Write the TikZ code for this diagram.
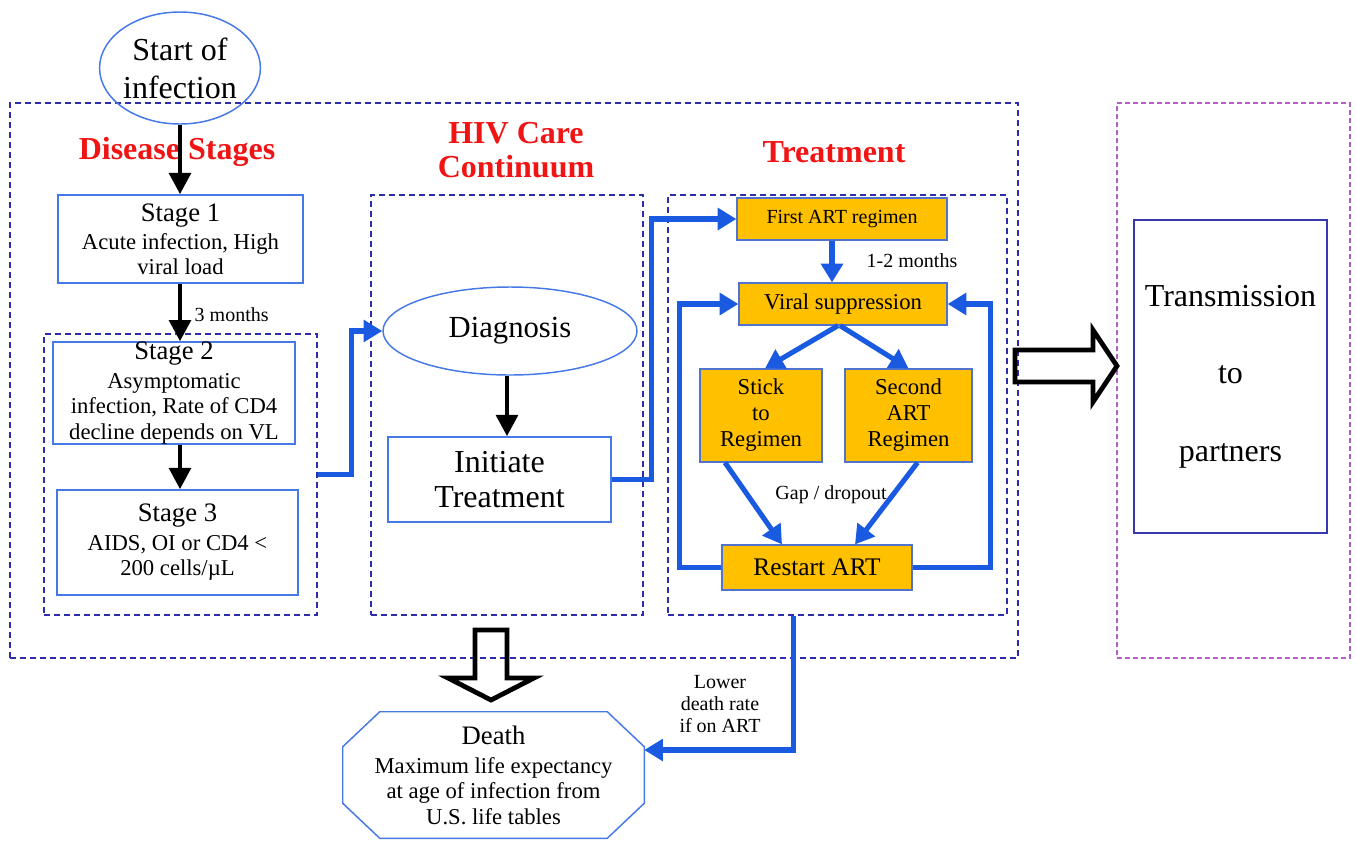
\documentclass[tikz,border=0pt]{standalone}
\usepackage{fontspec}
\setmainfont{Liberation Serif}
\usetikzlibrary{arrows.meta,calc,shapes.geometric}
\definecolor{boxblue}{RGB}{70,120,230}
\definecolor{navy}{RGB}{45,45,170}
\definecolor{navytwo}{RGB}{55,55,175}
\definecolor{purp}{RGB}{180,95,200}
\definecolor{flowblue}{RGB}{25,90,225}
\definecolor{artorange}{RGB}{255,192,0}
\definecolor{oborder}{RGB}{80,115,205}
\definecolor{hred}{RGB}{240,20,20}
\newcommand{\fsz}[2]{\fontsize{#1}{#2}\selectfont}
\begin{document}
\begin{tikzpicture}[x=0.75pt,y=-0.75pt,
  frame/.style={draw=navy, line width=1.1pt, dash pattern=on 4.5pt off 3pt, inner sep=0pt},
  sbox/.style={draw=boxblue, line width=1.1pt, align=center, inner sep=0pt, font=\fsz{17}{19}},
  obox/.style={draw=oborder, fill=artorange, line width=0.9pt, align=center, inner sep=0pt, font=\fsz{17}{19.5}},
  barrow/.style={draw=black, line width=3.6pt, -{Triangle[length=16pt,width=16pt]}},
  farrow/.style={draw=flowblue, line width=3.8pt, -{Triangle[length=14pt,width=16pt]}},
  hollow/.style={draw=black, line width=3.6pt, line join=miter},
  heading/.style={text=hred, font=\fsz{24}{26}\bfseries, align=center},
  lbl/.style={font=\fsz{15}{16.5}, align=center}]
\useasboundingbox (0,0) rectangle (1356,840);
% frames
\node[frame, minimum width=1008*0.75pt, minimum height=555*0.75pt] (outer) at (514,380.5) {};
\node[frame, draw=purp, line width=0.8pt, dash pattern=on 3.5pt off 2.5pt, minimum width=233*0.75pt, minimum height=555*0.75pt] (transframe) at (1233.5,380.5) {};
\node[frame, minimum width=273*0.75pt, minimum height=281*0.75pt] (stagesbox) at (180.5,474.5) {};
\node[frame, minimum width=272*0.75pt, minimum height=420*0.75pt] (carebox) at (507,405) {};
\node[frame, minimum width=339*0.75pt, minimum height=420*0.75pt] (treatbox) at (837.5,405) {};
% headings
\node[heading] (hds) at (177,152) {Disease Stages};
\node[heading] (hcc) at (516,150) {HIV Care\\Continuum};
\node[heading] (htr) at (834,152) {Treatment};
% start
\node[ellipse, draw=boxblue, line width=1.1pt, minimum width=150*0.75pt, minimum height=112*0.75pt, inner sep=0pt, align=center, font=\fsz{24}{28.5}] (start) at (180,68) {Start of\\infection};
% disease stages
\node[sbox, minimum width=245*0.75pt, minimum height=88*0.75pt] (stage1) at (180.5,239) {{\fsz{20}{24}Stage 1}\\[2pt]Acute infection, High\\viral load};
\node[sbox, minimum width=242*0.75pt, minimum height=100*0.75pt] (stage2) at (174,393) {{\fsz{20}{24}Stage 2}\\[2.5pt]Asymptomatic\\infection, Rate of CD4\\decline depends on VL};
\node[sbox, minimum width=241*0.75pt, minimum height=105*0.75pt] (stage3) at (177.5,542.5) {{\fsz{20}{24}Stage 3}\\[2.5pt]AIDS, OI or CD4 <\\200 cells/µL};
% care continuum
\node[ellipse, draw=boxblue, line width=1.1pt, minimum width=254*0.75pt, minimum height=88*0.75pt, inner sep=0pt, font=\fsz{23}{26}] (diag) at (510,331) {Diagnosis};
\node[sbox, minimum width=223*0.75pt, minimum height=85*0.75pt, font=\fsz{24}{26}] (init) at (499.5,479.5) {Initiate\\Treatment};
% treatment
\node[obox, minimum width=210*0.75pt, minimum height=42*0.75pt, font=\fsz{15}{17}] (first) at (842,219) {First ART regimen};
\node[obox, minimum width=208*0.75pt, minimum height=42*0.75pt] (viral) at (843,304) {Viral suppression};
\node[obox, minimum width=122*0.75pt, minimum height=93*0.75pt] (stick) at (761,415.5) {Stick\\to\\Regimen};
\node[obox, minimum width=127*0.75pt, minimum height=93*0.75pt] (second) at (908.5,415.5) {Second\\ART\\Regimen};
\node[obox, minimum width=190*0.75pt, minimum height=45*0.75pt, font=\fsz{19}{21}] (restart) at (817,567.5) {Restart ART};
% transmission
\node[draw=navytwo, line width=1.1pt, minimum width=193*0.75pt, minimum height=313*0.75pt, inner sep=0pt, align=center, font=\fsz{24}{58}] (trans) at (1230.5,376.5) {Transmission\\to\\partners};
% death
\node[minimum width=301*0.75pt, minimum height=126*0.75pt, inner sep=0pt, align=center, font=\fsz{17}{19}] (death) at (493.5,775) {{\fsz{20}{24}Death}\\[3pt]Maximum life expectancy\\at age of infection from\\U.S. life tables};
\draw[boxblue, line width=1.1pt] ($(death.north west)+(37,0)$) -- ($(death.north east)+(-37,0)$) -- ($(death.north east)+(0,35)$) -- ($(death.south east)+(0,-35)$) -- ($(death.south east)+(-37,0)$) -- ($(death.south west)+(37,0)$) -- ($(death.south west)+(0,-35)$) -- ($(death.north west)+(0,35)$) -- cycle;
% labels
\node[lbl, anchor=west] (m3) at (190,315) {3 months};
\node[lbl] (m12) at (912,261) {1-2 months};
\node[lbl] (gap) at (831,495) {Gap / dropout};
\node[lbl] (lower) at (720,704) {Lower\\death rate\\if on ART};
% black arrows
\draw[barrow] (start.south) -- (start.south |- stage1.north);
\draw[barrow] (start.south |- stage1.south) -- (start.south |- stage2.north);
\draw[barrow] (start.south |- stage2.south) -- (start.south |- stage3.north);
\draw[barrow] ($(diag.south)+(-3,0)$) -- ($(init.north)+(7.5,0)$);
% blue arrows
\draw[farrow] (stagesbox.east) -- ++(34,0) |- (diag.west);
\draw[farrow] (init.east) -- ++(40,0) |- (first.west);
\draw[farrow] ($(first.south)+(-10,0)$) -- ($(viral.north)+(-11,0)$);
\draw[farrow] ($(viral.south)+(-5,0)$) -- ($(stick.north)+(4,0)$);
\draw[farrow] ($(viral.south)+(-3,0)$) -- ($(second.north)+(0,0)$);
\draw[farrow] ($(stick.south)+(-36,0)$) -- ($(restart.north)+(-35,0)$);
\draw[farrow] ($(second.south)+(9,0)$) -- ($(restart.north)+(38,0)$);
\draw[farrow] (restart.west) -- ++(-42,0) |- (viral.west);
\draw[farrow] (restart.east) -- ++(78,0) |- (viral.east);
\draw[farrow] ($(treatbox.south)+(-44,0)$) |- ($(death.east)+(0,-25)$);
% hollow block arrows
\draw[hollow] (475,630) -- (507,630) -- (507,678) -- (534,678) -- (491,700) -- (448,678) -- (475,678) -- cycle;
\draw[hollow] (1015,350) -- (1093,350) -- (1093,330) -- (1117,366) -- (1093,402) -- (1093,382) -- (1015,382) -- cycle;
\end{tikzpicture}
\end{document}
